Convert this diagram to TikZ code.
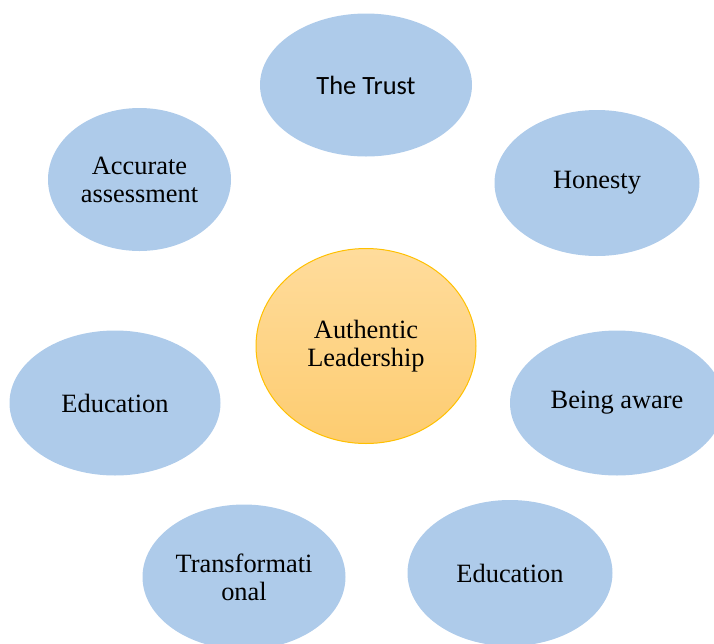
\documentclass[tikz,border=0pt]{standalone}
\usepackage{fontspec}
\setmainfont{Liberation Serif}
\newfontfamily\calibrifont{Carlito}
\usetikzlibrary{shapes.geometric}
\definecolor{petal}{RGB}{174,203,234}
\definecolor{coretop}{RGB}{255,220,156}
\definecolor{corebot}{RGB}{253,204,112}
\definecolor{coreline}{RGB}{255,192,0}
\tikzset{
  petal/.style={ellipse, fill=petal, draw=none, inner sep=0pt, align=center,
    font=\fontsize{13.2}{14}\selectfont},
  core/.style={ellipse, top color=coretop, bottom color=corebot, draw=coreline,
    line width=0.5pt, inner sep=0pt, align=center,
    minimum width=110pt, minimum height=97.5pt,
    font=\fontsize{13.2}{14}\selectfont}
}
\begin{document}
\begin{tikzpicture}[x=0.5pt,y=-0.5pt]
        \path[use as bounding box] (0,0) rectangle (714,644);

        \node[petal,minimum width=106pt,minimum height=71.5pt] (trust) at (366,85) {\calibrifont The Trust};
        \node[petal,minimum width=91.5pt,minimum height=71.5pt] (assess) at (139.5,179.5) {Accurate\\assessment};
        \node[petal,minimum width=102.5pt,minimum height=73pt] (honesty) at (597,183) {Honesty};
        \node[petal,minimum width=105.5pt,minimum height=72.5pt] (educl) at (115,403) {Education};
        \node[petal,minimum width=107pt,minimum height=72.5pt] (aware) at (617,403) {Being aware};
        \node[petal,minimum width=101.5pt,minimum height=72.5pt] (transf) at (244,577) {Transformati\\onal};
        \node[petal,minimum width=102.5pt,minimum height=73pt] (educr) at (510,573) {Education};

        \node[core] (lead) at (366,346) {Authentic\\Leadership};
    \end{tikzpicture}
\end{document}
